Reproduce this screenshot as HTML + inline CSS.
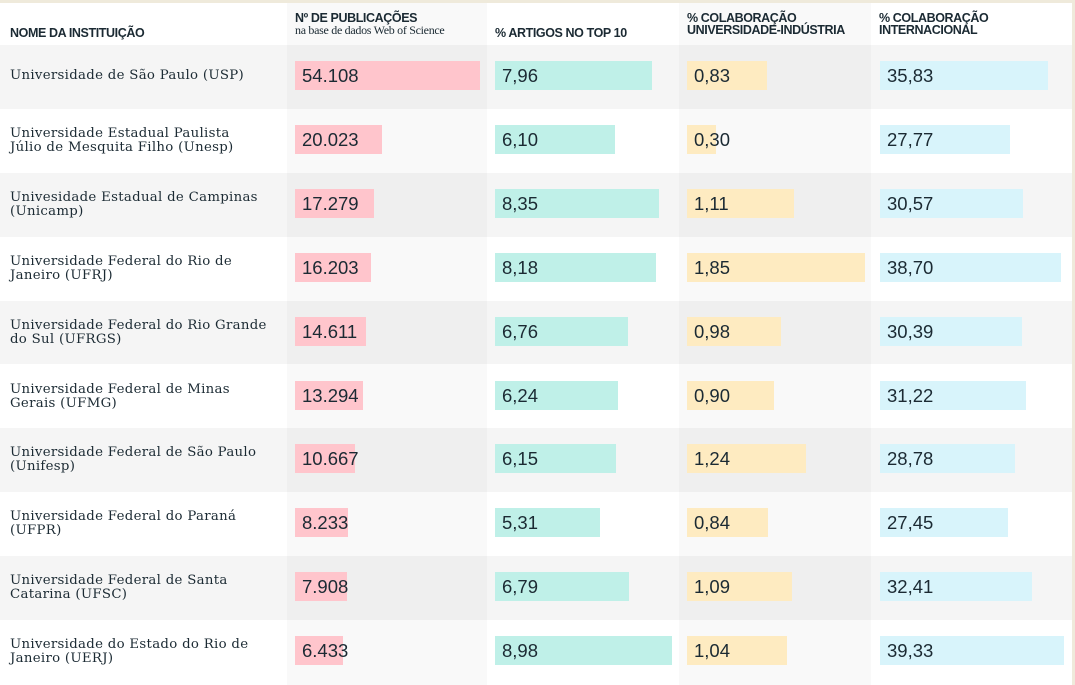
<!DOCTYPE html>
<html><head><meta charset="utf-8"><style>
body{margin:0;background:#efeadb;}
#wrap{position:absolute;left:0;top:3px;width:1072px;height:682px;background:#fff;overflow:hidden;font-family:"Liberation Sans",sans-serif;color:#1b2a33;}
.abs{position:absolute;}
.hd{position:absolute;font-weight:bold;font-size:12.5px;line-height:12px;letter-spacing:-0.4px;color:#1b2a33;}
.name{position:absolute;left:10px;font-family:"DejaVu Serif",serif;font-size:13.3px;line-height:14px;letter-spacing:0.3px;}
.bar{position:absolute;height:29px;}
.val{position:absolute;font-size:18.5px;line-height:29px;}
</style></head><body>
<div id="wrap"></div>
<script>
const names=["Universidade de São Paulo (USP)","Universidade Estadual Paulista<br>Júlio de Mesquita Filho (Unesp)","Univesidade Estadual de Campinas<br>(Unicamp)","Universidade Federal do Rio de<br>Janeiro (UFRJ)","Universidade Federal do Rio Grande<br>do Sul (UFRGS)","Universidade Federal de Minas<br>Gerais (UFMG)","Universidade Federal de São Paulo<br>(Unifesp)","Universidade Federal do Paraná<br>(UFPR)","Universidade Federal de Santa<br>Catarina (UFSC)","Universidade do Estado do Rio de<br>Janeiro (UERJ)"];
const pubs=[54108,20023,17279,16203,14611,13294,10667,8233,7908,6433];
const top10=[7.96,6.10,8.35,8.18,6.76,6.24,6.15,5.31,6.79,8.98];
const industry=[0.83,0.30,1.11,1.85,0.98,0.90,1.24,0.84,1.09,1.04];
const intl=[35.83,27.77,30.57,38.70,30.39,31.22,28.78,27.45,32.41,39.33];
const pubLabels=["54.108","20.023","17.279","16.203","14.611","13.294","10.667","8.233","7.908","6.433"];

const W=document.getElementById('wrap');
function add(cls,css,html,name){const e=document.createElement('div');e.className=cls;e.style.cssText=css;if(html!=null)e.innerHTML=html;


W.appendChild(e);return e;}
const rowTop=42,rowH=63.9;
for(let i=0;i<10;i++){add('abs',`left:0;top:${rowTop+i*rowH}px;width:1072px;height:${rowH}px;background:${i%2==0?'#f5f5f5':'#fff'}`,null,'row-band');}
add('abs','left:287px;top:0;width:200px;height:682px;background:rgba(0,0,0,0.022)',null,'column-tint');
add('abs','left:679px;top:0;width:192px;height:682px;background:rgba(0,0,0,0.022)',null,'column-tint');
add('hd','left:10px;top:24px','NOME DA INSTITUIÇÃO','header-name');
add('hd','left:295px;top:9px','Nº DE PUBLICAÇÕES<br><span style="font-weight:normal;font-family:\'Liberation Serif\',serif;font-size:12px;letter-spacing:-0.3px">na base de dados Web of Science</span>','header-publications');
add('hd','left:495px;top:24px','% ARTIGOS NO TOP 10','header-top10');
add('hd','left:687px;top:9px','% COLABORAÇÃO<br>UNIVERSIDADE-INDÚSTRIA','header-industry');
add('hd','left:879px;top:9px','% COLABORAÇÃO<br>INTERNACIONAL','header-international');
const xPub=v=>29.5+v*0.002874, xTop=v=>v*19.7, xInd=v=>v*96.2, xInt=v=>v*4.68;
const fmt=v=>v.toFixed(2).replace('.',',');
for(let i=0;i<10;i++){
  const y=rowTop+i*rowH, by=y+16;
  const one=names[i].indexOf('<br>')<0;
  add('name',`top:${one?y+24:y+18}px`,names[i],'institution-name');
  add('bar',`left:295px;top:${by}px;width:${xPub(pubs[i])}px;background:#ffc5cc`,null,'bar-publications');
  add('val',`left:302px;top:${by}px`,pubLabels[i],'value-publications');
  add('bar',`left:495px;top:${by}px;width:${xTop(top10[i])}px;background:#bff0e8`,null,'bar-top10');
  add('val',`left:502px;top:${by}px`,fmt(top10[i]),'value-top10');
  add('bar',`left:687px;top:${by}px;width:${xInd(industry[i])}px;background:#feebc1`,null,'bar-industry');
  add('val',`left:694px;top:${by}px`,fmt(industry[i]),'value-industry');
  add('bar',`left:880px;top:${by}px;width:${xInt(intl[i])}px;background:#d8f4fb`,null,'bar-international');
  add('val',`left:887px;top:${by}px`,fmt(intl[i]),'value-international');
}
</script>
</body></html>
